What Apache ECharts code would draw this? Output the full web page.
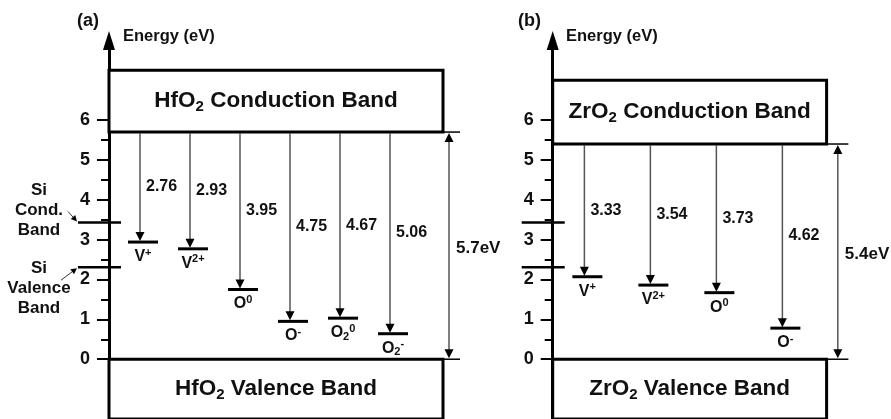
<!DOCTYPE html>
<html><head><meta charset="utf-8">
<script src="https://cdn.jsdelivr.net/npm/echarts@6/dist/echarts.min.js"></script>
<style>html,body{margin:0;padding:0;background:#fff}#c{width:891px;height:419px}</style>
</head><body><div id="c"></div>
<script>
// ---- data ----
const yTickValues = [0, 1, 2, 3, 4, 5, 6];
const yMinorTickValues = [0.5, 1.5, 2.5, 3.5, 4.5, 5.5];
const panelLabels = ['(a)', '(b)'];
const axisTitle = 'Energy (eV)';
const bandNames = [
  ['HfO{b|2} Conduction Band', 'HfO{b|2} Valence Band'],
  ['ZrO{b|2} Conduction Band', 'ZrO{b|2} Valence Band']
];
const hfoGap = 5.7;
const hfoDefectLabels = ['V{p|+}', 'V{p|2+}', 'O{p|0}', 'O{p|-}', 'O{b|2}{p|0}', 'O{b|2}{p|-}'];
const hfoDepths = [2.76, 2.93, 3.95, 4.75, 4.67, 5.06];
const zroGap = 5.4;
const zroDefectLabels = ['V{p|+}', 'V{p|2+}', 'O{p|0}', 'O{p|-}'];
const zroDepths = [3.33, 3.54, 3.73, 4.62];
const siBandEdges = [3.43, 2.31];
const siLabels = ['Si\nCond.\nBand', 'Si\nValence\nBand'];

// ---- layout ----
const FONT = '"Liberation Sans", Arial, sans-serif';
const INK = '#111';
const Y_MIN = -1.5, Y_MAX = 8;
const layout = [
  { left: 109, unit: 50, span: 7, xMin: -0.62, boxRight: 6.06, gapX: 6.18, extEnd: 6.4, cbTop: 7.25, gap: hfoGap, depths: hfoDepths, labels: hfoDefectLabels, siText: true },
  { left: 552.7, unit: 66, span: 5, xMin: -0.48, boxRight: 3.67, gapX: 3.84, extEnd: 4.0, cbTop: 7.0, gap: zroGap, depths: zroDepths, labels: zroDefectLabels, siText: false }
];
const richSup = {
  p: { fontSize: 11, fontWeight: 'bold', fontFamily: FONT, verticalAlign: 'top', lineHeight: 19, color: INK },
  b: { fontSize: 11, fontWeight: 'bold', fontFamily: FONT, verticalAlign: 'bottom', lineHeight: 19, color: INK }
};
const richBox = {
  b: { fontSize: 15, fontWeight: 'bold', fontFamily: FONT, verticalAlign: 'bottom', lineHeight: 27, color: INK }
};

function boxSeries(p) {
  const L = layout[p];
  return {
    type: 'custom', xAxisIndex: p, yAxisIndex: p * 2, z: 3,
    data: [[L.gap, L.cbTop, 0], [0, Y_MIN, 1]],
    renderItem: function (params, api) {
      const y1 = api.value(0), y2 = api.value(1), ti = api.value(2);
      const a = api.coord([L.xMin, y1]), b = api.coord([L.boxRight, y2]);
      const e = api.coord([L.extEnd, y1]);
      const c = api.coord([L.xMin, (y1 + y2) / 2]);
      return { type: 'group', children: [
        { type: 'rect', shape: { x: a[0], y: Math.min(a[1], b[1]), width: b[0] - a[0], height: Math.abs(b[1] - a[1]) },
          style: { fill: '#fff', stroke: '#000', lineWidth: 3 } },
        { type: 'line', shape: { x1: b[0], y1: a[1], x2: e[0], y2: a[1] }, style: { stroke: '#000', lineWidth: 1.5 } },
        { type: 'text', x: (a[0] + b[0]) / 2, y: c[1],
          style: { text: bandNames[p][ti], rich: richBox, align: 'center', verticalAlign: 'middle',
            fontSize: 22.5, fontWeight: 'bold', fontFamily: FONT, lineHeight: 27, fill: INK } }
      ]};
    }
  };
}

function defectSeries(p) {
  const L = layout[p];
  return {
    type: 'custom', xAxisIndex: p, yAxisIndex: p * 2, z: 4,
    data: L.depths.map((d, i) => [i, L.gap, d, i]),
    renderItem: function (params, api) {
      const x = api.value(0), gap = api.value(1), depth = api.value(2), li = api.value(3);
      const top = api.coord([x, gap]), bot = api.coord([x, gap - depth]);
      const mid = api.coord([x, gap - depth / 2]);
      const bx = bot[0], by = bot[1];
      return { type: 'group', children: [
        { type: 'line', shape: { x1: top[0], y1: top[1] + 1, x2: bx, y2: by - 8 }, style: { stroke: '#555', lineWidth: 1.5 } },
        { type: 'polygon', shape: { points: [[bx - 4.5, by - 10], [bx + 4.5, by - 10], [bx, by - 1]] }, style: { fill: '#000' } },
        { type: 'line', shape: { x1: bx - 12, y1: by, x2: bx + 18, y2: by }, style: { stroke: '#000', lineWidth: 3 } },
        { type: 'text', x: bx + 6, y: mid[1],
          style: { text: depth.toFixed(2), align: 'left', verticalAlign: 'middle', fontSize: 16, fontWeight: 'bold', fontFamily: FONT, fill: INK } },
        { type: 'text', x: bx + 3, y: by + 5,
          style: { text: L.labels[li], rich: richSup, align: 'center', verticalAlign: 'top', fontSize: 16, fontWeight: 'bold', fontFamily: FONT, lineHeight: 19, fill: INK } }
      ]};
    }
  };
}

function gapSeries(p) {
  const L = layout[p];
  return {
    type: 'custom', xAxisIndex: p, yAxisIndex: p * 2, z: 4,
    data: [[L.gapX, L.gap]],
    renderItem: function (params, api) {
      const gx = api.value(0), gap = api.value(1);
      const t = api.coord([gx, gap]), b = api.coord([gx, 0]), m = api.coord([gx, gap / 2]);
      const x = t[0];
      return { type: 'group', children: [
        { type: 'line', shape: { x1: x, y1: t[1] + 6, x2: x, y2: b[1] - 6 }, style: { stroke: '#555', lineWidth: 1.5 } },
        { type: 'polygon', shape: { points: [[x - 4.5, t[1] + 10], [x + 4.5, t[1] + 10], [x, t[1] + 1]] }, style: { fill: '#000' } },
        { type: 'polygon', shape: { points: [[x - 4.5, b[1] - 10], [x + 4.5, b[1] - 10], [x, b[1] - 1]] }, style: { fill: '#000' } },
        { type: 'text', x: x + 7, y: m[1] + 3,
          style: { text: gap.toFixed(1) + 'eV', align: 'left', verticalAlign: 'middle', fontSize: 17, fontWeight: 'bold', fontFamily: FONT, fill: INK } }
      ]};
    }
  };
}

function siSeries(p) {
  const L = layout[p];
  return {
    type: 'custom', xAxisIndex: p, yAxisIndex: p * 2, z: 5,
    data: siBandEdges.map((v, i) => [L.xMin, v, i]),
    renderItem: function (params, api) {
      const v = api.value(1), i = api.value(2);
      const c = api.coord([L.xMin, v]);
      const x0 = c[0] - 31, y = c[1];
      const kids = [
        { type: 'line', shape: { x1: x0, y1: y, x2: c[0] + 12, y2: y }, style: { stroke: '#000', lineWidth: 2.5 } }
      ];
      if (L.siText) {
        const up = i === 0;
        const tx = c[0] - 70, ty = up ? y - 12.5 : y + 21;
        kids.push({ type: 'text', x: tx, y: ty,
          style: { text: siLabels[i], align: 'center', verticalAlign: 'middle', fontSize: 17, fontWeight: 'bold', fontFamily: FONT, lineHeight: 20, fill: INK } });
        const s = up ? [x0 - 10, y - 11] : [x0 - 17, y + 13];
        const tip = [x0 - 1, y - (up ? 1 : -1)];
        const ang = Math.atan2(tip[1] - s[1], tip[0] - s[0]);
        const hl = 6, hw = 3;
        const bx = tip[0] - hl * Math.cos(ang), by = tip[1] - hl * Math.sin(ang);
        kids.push({ type: 'line', shape: { x1: s[0], y1: s[1], x2: bx, y2: by }, style: { stroke: '#333', lineWidth: 1 } });
        kids.push({ type: 'polygon', shape: { points: [tip,
          [bx + hw * Math.sin(ang), by - hw * Math.cos(ang)], [bx - hw * Math.sin(ang), by + hw * Math.cos(ang)]] }, style: { fill: '#000' } });
      }
      return { type: 'group', children: kids };
    }
  };
}

function majorAxis(p) {
  return {
    gridIndex: p, type: 'value', position: 'left', min: Y_MIN, max: Y_MAX,
    axisLine: { show: true, onZero: false, symbol: ['none', 'triangle'], symbolSize: [12, 19], lineStyle: { color: '#000', width: 3 } },
    axisTick: { show: true, customValues: yTickValues, length: 12, lineStyle: { color: '#000', width: 2 } },
    axisLabel: { show: true, customValues: yTickValues, margin: 19, fontSize: 18, fontWeight: 'bold', color: INK, fontFamily: FONT },
    splitLine: { show: false }
  };
}
function minorAxis(p) {
  return {
    gridIndex: p, type: 'value', position: 'left', min: Y_MIN, max: Y_MAX,
    axisLine: { show: false, onZero: false },
    axisTick: { show: true, customValues: yMinorTickValues, length: 8, lineStyle: { color: '#000', width: 2 } },
    axisLabel: { show: false },
    splitLine: { show: false }
  };
}

const option = {
  animation: false,
  backgroundColor: '#fff',
  grid: layout.map(L => ({ left: L.left, top: 40.4, width: L.unit * L.span, height: 382 })),
  xAxis: layout.map((L, p) => ({ gridIndex: p, type: 'value', min: L.xMin, max: L.xMin + L.span, show: false })),
  yAxis: [majorAxis(0), minorAxis(0), majorAxis(1), minorAxis(1)],
  graphic: [
    { type: 'text', left: 77, top: 12, style: { text: panelLabels[0], font: 'bold 18px ' + FONT, fill: INK } },
    { type: 'text', left: 123, top: 28, style: { text: axisTitle, font: 'bold 16.5px ' + FONT, fill: INK } },
    { type: 'text', left: 518, top: 12, style: { text: panelLabels[1], font: 'bold 18px ' + FONT, fill: INK } },
    { type: 'text', left: 566, top: 28, style: { text: axisTitle, font: 'bold 16.5px ' + FONT, fill: INK } }
  ],
  series: [boxSeries(0), defectSeries(0), gapSeries(0), siSeries(0),
           boxSeries(1), defectSeries(1), gapSeries(1), siSeries(1)]
};
const chart = echarts.init(document.getElementById('c'));
chart.setOption(option);
</script>
</body></html>
